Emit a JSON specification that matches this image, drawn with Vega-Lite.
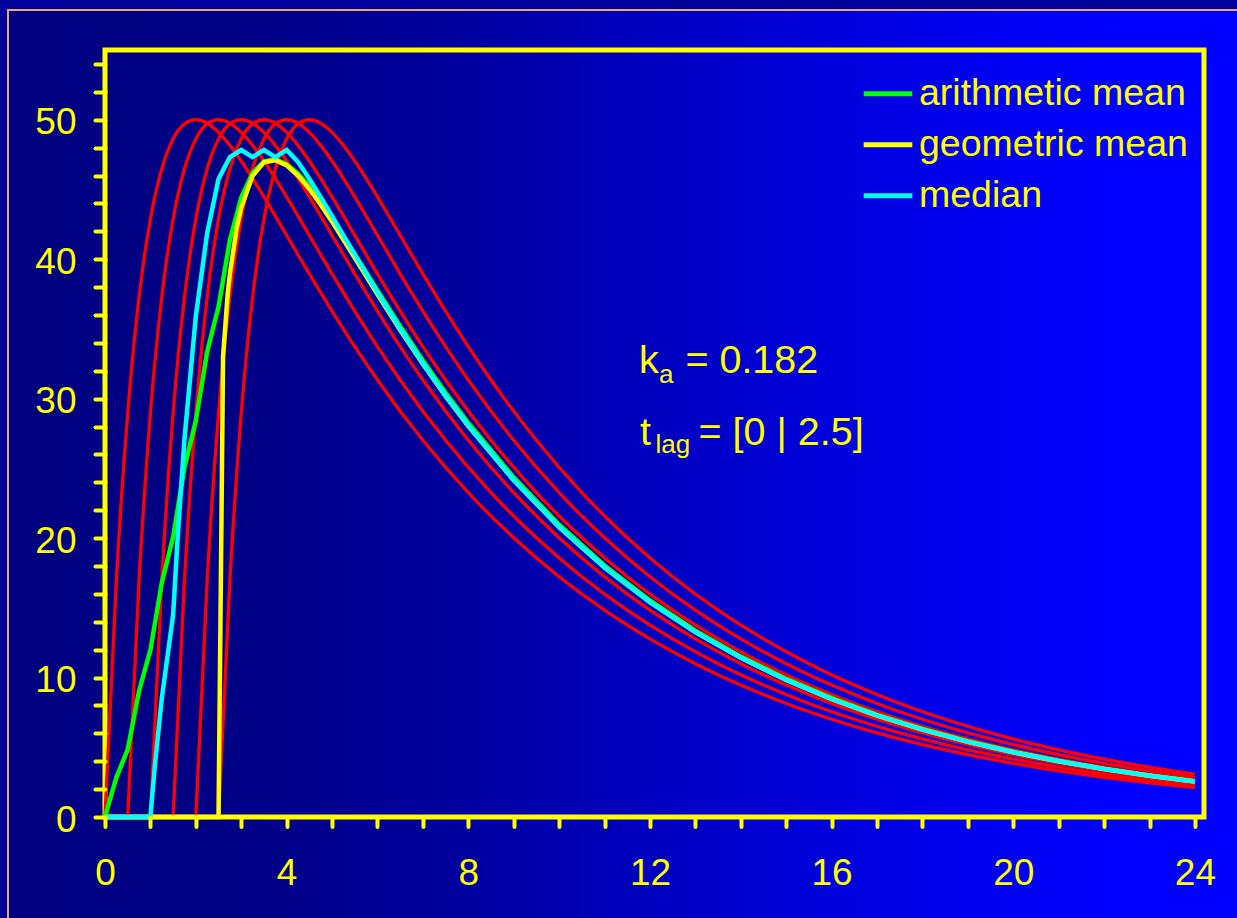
{
  "$schema": "https://vega.github.io/schema/vega-lite/v6.json",
  "width": 1099,
  "height": 767,
  "autosize": {"type": "none"},
  "padding": {"left": 105, "top": 50, "right": 33, "bottom": 101},
  "background": "#00009c",
  "config": {"view": {"stroke": null}, "font": "Liberation Sans"},
  "datasets": {
    "red": [
      {"lag":"0","t":0,"c":0},{"lag":"0","t":0.25,"c":16.96},{"lag":"0","t":0.5,"c":28.95},{"lag":"0","t":0.75,"c":37.26},{"lag":"0","t":1,"c":42.87},{"lag":"0","t":1.25,"c":46.47},{"lag":"0","t":1.5,"c":48.62},{"lag":"0","t":1.75,"c":49.70},{"lag":"0","t":2,"c":50.00},{"lag":"0","t":2.25,"c":49.75},{"lag":"0","t":2.5,"c":49.09},{"lag":"0","t":2.75,"c":48.16},{"lag":"0","t":3,"c":47.04},{"lag":"0","t":3.5,"c":44.47},{"lag":"0","t":4,"c":41.71},{"lag":"0","t":4.5,"c":38.95},{"lag":"0","t":5,"c":36.28},{"lag":"0","t":5.5,"c":33.73},{"lag":"0","t":6,"c":31.34},{"lag":"0","t":7,"c":27.01},{"lag":"0","t":8,"c":23.26},{"lag":"0","t":9,"c":20.02},{"lag":"0","t":10,"c":17.23},{"lag":"0","t":11,"c":14.83},{"lag":"0","t":12,"c":12.77},{"lag":"0","t":13,"c":10.99},{"lag":"0","t":14,"c":9.46},{"lag":"0","t":15,"c":8.14},{"lag":"0","t":16,"c":7.01},{"lag":"0","t":17,"c":6.03},{"lag":"0","t":18,"c":5.19},{"lag":"0","t":19,"c":4.47},{"lag":"0","t":20,"c":3.85},{"lag":"0","t":21,"c":3.31},{"lag":"0","t":22,"c":2.85},{"lag":"0","t":23,"c":2.45},{"lag":"0","t":24,"c":2.11},
      {"lag":"0.5","t":0.5,"c":0},{"lag":"0.5","t":0.75,"c":16.96},{"lag":"0.5","t":1,"c":28.95},{"lag":"0.5","t":1.25,"c":37.26},{"lag":"0.5","t":1.5,"c":42.87},{"lag":"0.5","t":1.75,"c":46.47},{"lag":"0.5","t":2,"c":48.62},{"lag":"0.5","t":2.25,"c":49.70},{"lag":"0.5","t":2.5,"c":50.00},{"lag":"0.5","t":2.75,"c":49.75},{"lag":"0.5","t":3,"c":49.09},{"lag":"0.5","t":3.25,"c":48.16},{"lag":"0.5","t":3.5,"c":47.04},{"lag":"0.5","t":4,"c":44.47},{"lag":"0.5","t":4.5,"c":41.71},{"lag":"0.5","t":5,"c":38.95},{"lag":"0.5","t":5.5,"c":36.28},{"lag":"0.5","t":6,"c":33.73},{"lag":"0.5","t":6.5,"c":31.34},{"lag":"0.5","t":7.5,"c":27.01},{"lag":"0.5","t":8.5,"c":23.26},{"lag":"0.5","t":9.5,"c":20.02},{"lag":"0.5","t":10.5,"c":17.23},{"lag":"0.5","t":11.5,"c":14.83},{"lag":"0.5","t":12.5,"c":12.77},{"lag":"0.5","t":13.5,"c":10.99},{"lag":"0.5","t":14.5,"c":9.46},{"lag":"0.5","t":15.5,"c":8.14},{"lag":"0.5","t":16.5,"c":7.01},{"lag":"0.5","t":17.5,"c":6.03},{"lag":"0.5","t":18.5,"c":5.19},{"lag":"0.5","t":19.5,"c":4.47},{"lag":"0.5","t":20.5,"c":3.85},{"lag":"0.5","t":21.5,"c":3.31},{"lag":"0.5","t":22.5,"c":2.85},{"lag":"0.5","t":23.5,"c":2.45},{"lag":"0.5","t":24,"c":2.27},
      {"lag":"1","t":1,"c":0},{"lag":"1","t":1.25,"c":16.96},{"lag":"1","t":1.5,"c":28.95},{"lag":"1","t":1.75,"c":37.26},{"lag":"1","t":2,"c":42.87},{"lag":"1","t":2.25,"c":46.47},{"lag":"1","t":2.5,"c":48.62},{"lag":"1","t":2.75,"c":49.70},{"lag":"1","t":3,"c":50.00},{"lag":"1","t":3.25,"c":49.75},{"lag":"1","t":3.5,"c":49.09},{"lag":"1","t":3.75,"c":48.16},{"lag":"1","t":4,"c":47.04},{"lag":"1","t":4.5,"c":44.47},{"lag":"1","t":5,"c":41.71},{"lag":"1","t":5.5,"c":38.95},{"lag":"1","t":6,"c":36.28},{"lag":"1","t":6.5,"c":33.73},{"lag":"1","t":7,"c":31.34},{"lag":"1","t":8,"c":27.01},{"lag":"1","t":9,"c":23.26},{"lag":"1","t":10,"c":20.02},{"lag":"1","t":11,"c":17.23},{"lag":"1","t":12,"c":14.83},{"lag":"1","t":13,"c":12.77},{"lag":"1","t":14,"c":10.99},{"lag":"1","t":15,"c":9.46},{"lag":"1","t":16,"c":8.14},{"lag":"1","t":17,"c":7.01},{"lag":"1","t":18,"c":6.03},{"lag":"1","t":19,"c":5.19},{"lag":"1","t":20,"c":4.47},{"lag":"1","t":21,"c":3.85},{"lag":"1","t":22,"c":3.31},{"lag":"1","t":23,"c":2.85},{"lag":"1","t":24,"c":2.45},
      {"lag":"1.5","t":1.5,"c":0},{"lag":"1.5","t":1.75,"c":16.96},{"lag":"1.5","t":2,"c":28.95},{"lag":"1.5","t":2.25,"c":37.26},{"lag":"1.5","t":2.5,"c":42.87},{"lag":"1.5","t":2.75,"c":46.47},{"lag":"1.5","t":3,"c":48.62},{"lag":"1.5","t":3.25,"c":49.70},{"lag":"1.5","t":3.5,"c":50.00},{"lag":"1.5","t":3.75,"c":49.75},{"lag":"1.5","t":4,"c":49.09},{"lag":"1.5","t":4.25,"c":48.16},{"lag":"1.5","t":4.5,"c":47.04},{"lag":"1.5","t":5,"c":44.47},{"lag":"1.5","t":5.5,"c":41.71},{"lag":"1.5","t":6,"c":38.95},{"lag":"1.5","t":6.5,"c":36.28},{"lag":"1.5","t":7,"c":33.73},{"lag":"1.5","t":7.5,"c":31.34},{"lag":"1.5","t":8.5,"c":27.01},{"lag":"1.5","t":9.5,"c":23.26},{"lag":"1.5","t":10.5,"c":20.02},{"lag":"1.5","t":11.5,"c":17.23},{"lag":"1.5","t":12.5,"c":14.83},{"lag":"1.5","t":13.5,"c":12.77},{"lag":"1.5","t":14.5,"c":10.99},{"lag":"1.5","t":15.5,"c":9.46},{"lag":"1.5","t":16.5,"c":8.14},{"lag":"1.5","t":17.5,"c":7.01},{"lag":"1.5","t":18.5,"c":6.03},{"lag":"1.5","t":19.5,"c":5.19},{"lag":"1.5","t":20.5,"c":4.47},{"lag":"1.5","t":21.5,"c":3.85},{"lag":"1.5","t":22.5,"c":3.31},{"lag":"1.5","t":23.5,"c":2.85},{"lag":"1.5","t":24,"c":2.64},
      {"lag":"2","t":2,"c":0},{"lag":"2","t":2.25,"c":16.96},{"lag":"2","t":2.5,"c":28.95},{"lag":"2","t":2.75,"c":37.26},{"lag":"2","t":3,"c":42.87},{"lag":"2","t":3.25,"c":46.47},{"lag":"2","t":3.5,"c":48.62},{"lag":"2","t":3.75,"c":49.70},{"lag":"2","t":4,"c":50.00},{"lag":"2","t":4.25,"c":49.75},{"lag":"2","t":4.5,"c":49.09},{"lag":"2","t":4.75,"c":48.16},{"lag":"2","t":5,"c":47.04},{"lag":"2","t":5.5,"c":44.47},{"lag":"2","t":6,"c":41.71},{"lag":"2","t":6.5,"c":38.95},{"lag":"2","t":7,"c":36.28},{"lag":"2","t":7.5,"c":33.73},{"lag":"2","t":8,"c":31.34},{"lag":"2","t":9,"c":27.01},{"lag":"2","t":10,"c":23.26},{"lag":"2","t":11,"c":20.02},{"lag":"2","t":12,"c":17.23},{"lag":"2","t":13,"c":14.83},{"lag":"2","t":14,"c":12.77},{"lag":"2","t":15,"c":10.99},{"lag":"2","t":16,"c":9.46},{"lag":"2","t":17,"c":8.14},{"lag":"2","t":18,"c":7.01},{"lag":"2","t":19,"c":6.03},{"lag":"2","t":20,"c":5.19},{"lag":"2","t":21,"c":4.47},{"lag":"2","t":22,"c":3.85},{"lag":"2","t":23,"c":3.31},{"lag":"2","t":24,"c":2.85},
      {"lag":"2.5","t":2.5,"c":0},{"lag":"2.5","t":2.75,"c":16.96},{"lag":"2.5","t":3,"c":28.95},{"lag":"2.5","t":3.25,"c":37.26},{"lag":"2.5","t":3.5,"c":42.87},{"lag":"2.5","t":3.75,"c":46.47},{"lag":"2.5","t":4,"c":48.62},{"lag":"2.5","t":4.25,"c":49.70},{"lag":"2.5","t":4.5,"c":50.00},{"lag":"2.5","t":4.75,"c":49.75},{"lag":"2.5","t":5,"c":49.09},{"lag":"2.5","t":5.25,"c":48.16},{"lag":"2.5","t":5.5,"c":47.04},{"lag":"2.5","t":6,"c":44.47},{"lag":"2.5","t":6.5,"c":41.71},{"lag":"2.5","t":7,"c":38.95},{"lag":"2.5","t":7.5,"c":36.28},{"lag":"2.5","t":8,"c":33.73},{"lag":"2.5","t":8.5,"c":31.34},{"lag":"2.5","t":9.5,"c":27.01},{"lag":"2.5","t":10.5,"c":23.26},{"lag":"2.5","t":11.5,"c":20.02},{"lag":"2.5","t":12.5,"c":17.23},{"lag":"2.5","t":13.5,"c":14.83},{"lag":"2.5","t":14.5,"c":12.77},{"lag":"2.5","t":15.5,"c":10.99},{"lag":"2.5","t":16.5,"c":9.46},{"lag":"2.5","t":17.5,"c":8.14},{"lag":"2.5","t":18.5,"c":7.01},{"lag":"2.5","t":19.5,"c":6.03},{"lag":"2.5","t":20.5,"c":5.19},{"lag":"2.5","t":21.5,"c":4.47},{"lag":"2.5","t":22.5,"c":3.85},{"lag":"2.5","t":23.5,"c":3.31},{"lag":"2.5","t":24,"c":3.07}
    ],
    "stats": [
      {"stat":"arithmetic mean","t":0,"c":0},{"stat":"arithmetic mean","t":0.25,"c":2.83},{"stat":"arithmetic mean","t":0.5,"c":4.83},{"stat":"arithmetic mean","t":0.75,"c":9.04},{"stat":"arithmetic mean","t":1,"c":11.97},{"stat":"arithmetic mean","t":1.25,"c":16.78},{"stat":"arithmetic mean","t":1.5,"c":20.07},{"stat":"arithmetic mean","t":1.75,"c":25.07},{"stat":"arithmetic mean","t":2,"c":28.41},{"stat":"arithmetic mean","t":2.25,"c":33.36},{"stat":"arithmetic mean","t":2.5,"c":36.59},{"stat":"arithmetic mean","t":2.75,"c":41.38},{"stat":"arithmetic mean","t":3,"c":44.43},{"stat":"arithmetic mean","t":3.25,"c":46.19},{"stat":"arithmetic mean","t":3.5,"c":47.02},{"stat":"arithmetic mean","t":3.75,"c":47.16},{"stat":"arithmetic mean","t":4,"c":46.82},{"stat":"arithmetic mean","t":4.25,"c":46.14},{"stat":"arithmetic mean","t":4.5,"c":45.21},{"stat":"arithmetic mean","t":4.75,"c":44.12},{"stat":"arithmetic mean","t":5,"c":42.92},{"stat":"arithmetic mean","t":5.5,"c":40.36},{"stat":"arithmetic mean","t":6,"c":37.75},{"stat":"arithmetic mean","t":6.5,"c":35.19},{"stat":"arithmetic mean","t":7,"c":32.74},{"stat":"arithmetic mean","t":7.5,"c":30.42},{"stat":"arithmetic mean","t":8,"c":28.25},{"stat":"arithmetic mean","t":9,"c":24.35},{"stat":"arithmetic mean","t":10,"c":20.96},{"stat":"arithmetic mean","t":11,"c":18.04},{"stat":"arithmetic mean","t":12,"c":15.53},{"stat":"arithmetic mean","t":13,"c":13.36},{"stat":"arithmetic mean","t":14,"c":11.50},{"stat":"arithmetic mean","t":15,"c":9.90},{"stat":"arithmetic mean","t":16,"c":8.52},{"stat":"arithmetic mean","t":17,"c":7.33},{"stat":"arithmetic mean","t":18,"c":6.31},{"stat":"arithmetic mean","t":19,"c":5.43},{"stat":"arithmetic mean","t":20,"c":4.68},{"stat":"arithmetic mean","t":21,"c":4.03},{"stat":"arithmetic mean","t":22,"c":3.46},{"stat":"arithmetic mean","t":23,"c":2.98},{"stat":"arithmetic mean","t":24,"c":2.57},
      {"stat":"geometric mean","t":0,"c":0},{"stat":"geometric mean","t":2.5,"c":0},{"stat":"geometric mean","t":2.6,"c":33.04},{"stat":"geometric mean","t":2.7,"c":37.43},{"stat":"geometric mean","t":2.75,"c":38.96},{"stat":"geometric mean","t":2.9,"c":42.22},{"stat":"geometric mean","t":3,"c":43.70},{"stat":"geometric mean","t":3.25,"c":45.98},{"stat":"geometric mean","t":3.5,"c":46.94},{"stat":"geometric mean","t":3.75,"c":47.10},{"stat":"geometric mean","t":4,"c":46.73},{"stat":"geometric mean","t":4.25,"c":46.00},{"stat":"geometric mean","t":4.5,"c":45.03},{"stat":"geometric mean","t":4.75,"c":43.91},{"stat":"geometric mean","t":5,"c":42.69},{"stat":"geometric mean","t":5.5,"c":40.10},{"stat":"geometric mean","t":6,"c":37.48},{"stat":"geometric mean","t":6.5,"c":34.92},{"stat":"geometric mean","t":7,"c":32.48},{"stat":"geometric mean","t":7.5,"c":30.18},{"stat":"geometric mean","t":8,"c":28.03},{"stat":"geometric mean","t":9,"c":24.15},{"stat":"geometric mean","t":10,"c":20.79},{"stat":"geometric mean","t":11,"c":17.89},{"stat":"geometric mean","t":12,"c":15.40},{"stat":"geometric mean","t":13,"c":13.26},{"stat":"geometric mean","t":14,"c":11.41},{"stat":"geometric mean","t":15,"c":9.82},{"stat":"geometric mean","t":16,"c":8.45},{"stat":"geometric mean","t":17,"c":7.27},{"stat":"geometric mean","t":18,"c":6.26},{"stat":"geometric mean","t":19,"c":5.39},{"stat":"geometric mean","t":20,"c":4.64},{"stat":"geometric mean","t":21,"c":3.99},{"stat":"geometric mean","t":22,"c":3.44},{"stat":"geometric mean","t":23,"c":2.96},{"stat":"geometric mean","t":24,"c":2.55},
      {"stat":"median","t":0,"c":0},{"stat":"median","t":1,"c":0},{"stat":"median","t":1.1,"c":3.74},{"stat":"median","t":1.25,"c":8.48},{"stat":"median","t":1.5,"c":14.48},{"stat":"median","t":1.6,"c":20.07},{"stat":"median","t":1.75,"c":27.11},{"stat":"median","t":2,"c":35.91},{"stat":"median","t":2.25,"c":41.87},{"stat":"median","t":2.5,"c":45.75},{"stat":"median","t":2.75,"c":47.32},{"stat":"median","t":3,"c":47.83},{"stat":"median","t":3.25,"c":47.32},{"stat":"median","t":3.5,"c":47.83},{"stat":"median","t":3.75,"c":47.32},{"stat":"median","t":4,"c":47.83},{"stat":"median","t":4.25,"c":46.98},{"stat":"median","t":4.5,"c":45.76},{"stat":"median","t":4.75,"c":44.45},{"stat":"median","t":5,"c":43.09},{"stat":"median","t":5.5,"c":40.33},{"stat":"median","t":6,"c":37.62},{"stat":"median","t":6.5,"c":35.01},{"stat":"median","t":7,"c":32.54},{"stat":"median","t":7.5,"c":30.22},{"stat":"median","t":8,"c":28.06},{"stat":"median","t":9,"c":24.17},{"stat":"median","t":10,"c":20.80},{"stat":"median","t":11,"c":17.91},{"stat":"median","t":12,"c":15.41},{"stat":"median","t":13,"c":13.26},{"stat":"median","t":14,"c":11.42},{"stat":"median","t":15,"c":9.83},{"stat":"median","t":16,"c":8.46},{"stat":"median","t":17,"c":7.28},{"stat":"median","t":18,"c":6.27},{"stat":"median","t":19,"c":5.39},{"stat":"median","t":20,"c":4.64},{"stat":"median","t":21,"c":4.00},{"stat":"median","t":22,"c":3.44},{"stat":"median","t":23,"c":2.96},{"stat":"median","t":24,"c":2.55}
    ]
  },
  "layer": [
    {
      "data": {"values": [{}]},
      "mark": {
        "type": "rect",
        "stroke": "#eaa86e",
        "strokeWidth": 2,
        "fill": {
          "gradient": "linear", "x1": 0, "y1": 0, "x2": 1, "y2": 0,
          "stops": [
            {"offset": 0, "color": "#000080"},
            {"offset": 0.2, "color": "#000086"},
            {"offset": 0.35, "color": "#00009c"},
            {"offset": 0.5, "color": "#0000bc"},
            {"offset": 0.65, "color": "#0000da"},
            {"offset": 0.8, "color": "#0000f2"},
            {"offset": 0.9, "color": "#0000ff"},
            {"offset": 1, "color": "#0000ff"}
          ]
        }
      },
      "encoding": {
        "x": {
          "datum": -2.136, "type": "quantitative",
          "scale": {"domain": [0, 24.2], "nice": false, "zero": false},
          "axis": {
            "values": [0,1,2,3,4,5,6,7,8,9,10,11,12,13,14,15,16,17,18,19,20,21,22,23,24],
            "tickCount": 40,
            "format": "d",
            "labelExpr": "datum.value % 4 === 0 ? datum.label : ''",
            "tickSize": 9.5,
            "tickWidth": 4, "tickColor": "#ffff00", "tickCap": "round",
            "domain": false, "grid": false, "title": null,
            "labelColor": "#ffff00", "labelFont": "Liberation Sans", "labelFontSize": 37,
            "labelPadding": 29, "labelFlush": false, "labelOverlap": false, "zindex": 1
          }
        },
        "x2": {"datum": 25.21},
        "y": {
          "datum": 57.87, "type": "quantitative",
          "scale": {"domain": [0, 55], "nice": false, "zero": false},
          "axis": {
            "values": [0,2,4,6,8,10,12,14,16,18,20,22,24,26,28,30,32,34,36,38,40,42,44,46,48,50,52,54],
            "tickCount": 40,
            "format": "d",
            "labelExpr": "datum.value % 10 === 0 ? datum.label : ''",
            "tickSize": 10,
            "tickWidth": 4, "tickColor": "#ffff00", "tickCap": "round",
            "domain": false, "grid": false, "title": null,
            "labelColor": "#ffff00", "labelFont": "Liberation Sans", "labelFontSize": 37,
            "labelPadding": 19, "labelOffset": 3, "labelFlush": false, "labelOverlap": false, "zindex": 1
          }
        },
        "y2": {"datum": -7.75}
      }
    },
    {
      "data": {"values": [{}]},
      "mark": {"type": "rect", "fill": null, "fillOpacity": 0, "stroke": "#ffff00", "strokeWidth": 5},
      "encoding": {}
    },
    {
      "data": {"name": "red"},
      "mark": {"type": "line", "color": "#ff0000", "strokeWidth": 3.3, "interpolate": "monotone"},
      "encoding": {
        "x": {"field": "t", "type": "quantitative"},
        "y": {"field": "c", "type": "quantitative"},
        "detail": {"field": "lag", "type": "nominal"}
      }
    },
    {
      "data": {"name": "stats"},
      "mark": {"type": "line", "strokeWidth": 4.5},
      "encoding": {
        "x": {"field": "t", "type": "quantitative"},
        "y": {"field": "c", "type": "quantitative"},
        "color": {
          "field": "stat", "type": "nominal",
          "scale": {"domain": ["arithmetic mean", "geometric mean", "median"], "range": ["#00ff00", "#ffff00", "#00ffff"]},
          "legend": {
            "orient": "none", "legendX": 756, "legendY": 16.7, "title": null,
            "labelColor": "#ffff00", "labelFont": "Liberation Sans", "labelFontSize": 37.5, "labelLimit": 500,
            "symbolType": "stroke", "symbolSize": 2370, "symbolStrokeWidth": 5,
            "rowPadding": 5, "labelOffset": 4, "padding": 0
          }
        }
      }
    },
    {
      "data": {"values": [{}]},
      "mark": {"type": "text", "text": "k", "color": "#ffff00", "font": "Liberation Sans", "fontSize": 39.5, "align": "left", "baseline": "alphabetic"},
      "encoding": {"x": {"datum": 11.76, "type": "quantitative"}, "y": {"datum": 31.84, "type": "quantitative"}}
    },
    {
      "data": {"values": [{}]},
      "mark": {"type": "text", "text": "a", "color": "#ffff00", "font": "Liberation Sans", "fontSize": 26, "align": "left", "baseline": "alphabetic"},
      "encoding": {"x": {"datum": 12.2, "type": "quantitative"}, "y": {"datum": 31.12, "type": "quantitative"}}
    },
    {
      "data": {"values": [{}]},
      "mark": {"type": "text", "text": "= 0.182", "color": "#ffff00", "font": "Liberation Sans", "fontSize": 39.5, "align": "left", "baseline": "alphabetic"},
      "encoding": {"x": {"datum": 12.78, "type": "quantitative"}, "y": {"datum": 31.84, "type": "quantitative"}}
    },
    {
      "data": {"values": [{}]},
      "mark": {"type": "text", "text": "t", "color": "#ffff00", "font": "Liberation Sans", "fontSize": 39.5, "align": "left", "baseline": "alphabetic"},
      "encoding": {"x": {"datum": 11.78, "type": "quantitative"}, "y": {"datum": 26.67, "type": "quantitative"}}
    },
    {
      "data": {"values": [{}]},
      "mark": {"type": "text", "text": "lag", "color": "#ffff00", "font": "Liberation Sans", "fontSize": 26, "align": "left", "baseline": "alphabetic"},
      "encoding": {"x": {"datum": 12.12, "type": "quantitative"}, "y": {"datum": 26.08, "type": "quantitative"}}
    },
    {
      "data": {"values": [{}]},
      "mark": {"type": "text", "text": "= [0 | 2.5]", "color": "#ffff00", "font": "Liberation Sans", "fontSize": 39.5, "align": "left", "baseline": "alphabetic"},
      "encoding": {"x": {"datum": 13.07, "type": "quantitative"}, "y": {"datum": 26.67, "type": "quantitative"}}
    }
  ]
}
